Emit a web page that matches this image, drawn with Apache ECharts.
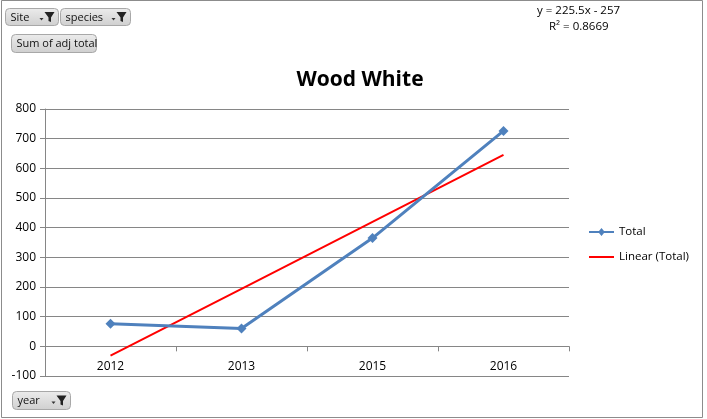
<!DOCTYPE html>
<html><head><meta charset="utf-8">
<script src="https://cdn.jsdelivr.net/npm/echarts@6/dist/echarts.min.js"></script>
<style>html,body{margin:0;padding:0;background:#fff}#c{width:707px;height:419px}</style>
</head><body><div id="c"></div>
<script>
var categories = ['2012', '2013', '2015', '2016'];
var totalValues = [76, 60, 365, 726];
var yTicks = [-100, 800, 100];
var equationLines = ['y = 225.5x - 257', 'R\u00B2 = 0.8669'];
var chartTitle = 'Wood White';

// linear trend computed from the data (x = 1..n)
var n = totalValues.length, sx = 0, sy = 0, sxy = 0, sxx = 0;
for (var i = 0; i < n; i++) { var x = i + 1; sx += x; sy += totalValues[i]; sxy += x * totalValues[i]; sxx += x * x; }
var slope = (n * sxy - sx * sy) / (n * sxx - sx * sx);
var intercept = (sy - slope * sx) / n;
var trendValues = totalValues.map(function (v, i) { return +(slope * (i + 1) + intercept).toFixed(2); });

var font = '"Open Sans", "Noto Sans", sans-serif';
function funnel(x, y) {
  return [
    { type: 'polygon', shape: { points: [[x - 5, y + 1], [x - 1, y + 1], [x - 3, y + 3.5]] }, style: { fill: '#333' } },
    { type: 'polygon', shape: { points: [[x, y - 5], [x + 10, y - 5], [x + 6.5, y + 0.5], [x + 6.5, y + 5], [x + 4, y + 4], [x + 4, y + 0.5]] }, style: { fill: '#222' } }
  ];
}
function button(x, y, w, h, label, withFunnel) {
  var els = [{
    type: 'rect', shape: { x: x, y: y, width: w, height: h, r: 4 },
    style: { fill: new echarts.graphic.LinearGradient(0, 0, 0, 1, [{ offset: 0, color: '#ececec' }, { offset: 1, color: '#cfcfcf' }]), stroke: '#a8a8a8', lineWidth: 1 }
  }, {
    type: 'text', x: x + 5, y: y + h / 2 + 0.5, style: { text: label, fill: '#111', font: '11px ' + font, verticalAlign: 'middle' }
  }];
  if (withFunnel) els = els.concat(funnel(x + w - 14, y + h / 2));
  return els;
}
var graphics = [
  { type: 'rect', shape: { x: 1.5, y: 0.5, width: 701, height: 417 }, style: { fill: 'none', stroke: '#8c8c8c', lineWidth: 1 } }
].concat(button(5.5, 8.5, 53, 17, 'Site', true))
 .concat(button(60.5, 8.5, 70, 17, 'species', true))
 .concat(button(11.5, 34.5, 85, 18, 'Sum of adj total', false))
 .concat(button(12.5, 391.5, 58, 18, 'year', true))
 .concat([
  { type: 'text', x: 537, y: 5, style: { text: equationLines[0], fill: '#000', font: '11.5px ' + font } },
  { type: 'text', x: 549, y: 21, style: { text: equationLines[1], fill: '#000', font: '11.5px ' + font } }
 ]);

var chart = echarts.init(document.getElementById('c'));
chart.setOption({
  animation: false,
  backgroundColor: '#fff',
  title: { text: chartTitle, left: 355, textAlign: 'center', top: 65, textStyle: { fontSize: 21, fontWeight: 'bold', color: '#000', fontFamily: font } },
  grid: { left: 45, right: 138, top: 109, bottom: 43, containLabel: false },
  legend: {
    orient: 'vertical', left: 584, top: 221, itemGap: 13, itemWidth: 25, itemHeight: 12,
    textStyle: { fontSize: 11.5, color: '#000', fontFamily: font },
    data: [{ name: 'Total', icon: 'path://M0,5L10,5L12.5,2L15,5L25,5L25,7L15,7L12.5,10L10,7L0,7Z' }, { name: 'Linear (Total)', icon: 'path://M0,5L25,5L25,7L0,7Z' }]
  },
  xAxis: {
    type: 'category', data: categories, boundaryGap: true,
    axisLine: { onZero: true, lineStyle: { color: '#868686' } },
    axisTick: { show: true, length: 5, lineStyle: { color: '#868686' } },
    axisLabel: { color: '#000', fontSize: 12, fontFamily: font, margin: -15 },
    splitLine: { show: false }
  },
  yAxis: {
    type: 'value', min: yTicks[0], max: yTicks[1], interval: yTicks[2],
    axisLine: { show: true, lineStyle: { color: '#868686' } },
    axisTick: { show: true, length: 5, lineStyle: { color: '#868686' } },
    axisLabel: { color: '#000', fontSize: 12, fontFamily: font, margin: 9 },
    splitLine: { lineStyle: { color: '#868686', width: 1 } }
  },
  series: [
    { name: 'Total', type: 'line', data: totalValues, symbol: 'diamond', symbolSize: 10,
      lineStyle: { color: '#4F81BD', width: 3 }, itemStyle: { color: '#4F81BD' }, z: 3 },
    { name: 'Linear (Total)', type: 'line', data: trendValues, symbol: 'none',
      lineStyle: { color: '#FF0000', width: 2 }, itemStyle: { color: '#FF0000' }, z: 2 }
  ],
  graphic: graphics
});
</script></body></html>
